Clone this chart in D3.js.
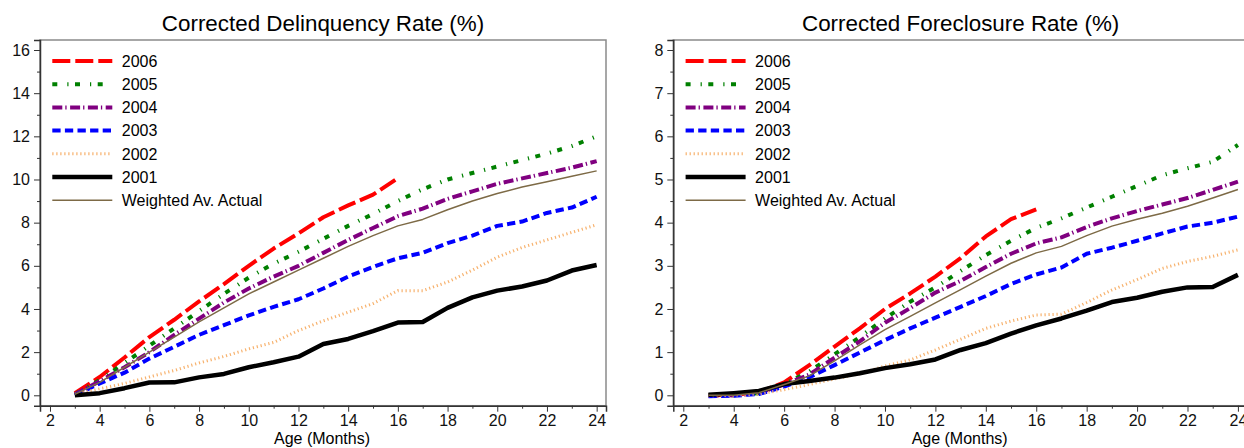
<!DOCTYPE html>
<html>
<head>
<meta charset="utf-8">
<script src="https://cdn.jsdelivr.net/npm/d3@7"></script>
<style>
	body { margin: 0; background: #fff; }
	svg { display: block; font-family: 'Liberation Sans', Arial, sans-serif; }
</style>
</head>
<body>
<svg width="1244" height="448"></svg>
<script>
'use strict'

// Age of loan in months
const months = [3, 4, 5, 6, 7, 8, 9, 10, 11, 12, 13, 14, 15, 16, 17, 18, 19, 20, 21, 22, 23, 24]
const seriesNames = ['2006', '2005', '2004', '2003', '2002', '2001', 'Weighted Av. Actual']

// Corrected delinquency rate (%)
const delq2006 = [0.1, 0.85, 1.75, 2.7, 3.5, 4.35, 5.15, 6.0, 6.8, 7.5, 8.25, 8.8, 9.3, 10.06]
const delq2005 = [0.05, 0.7, 1.5, 2.3, 3.1, 3.9, 4.7, 5.45, 6.1, 6.65, 7.25, 7.85, 8.4, 9.0, 9.55, 10.0, 10.3, 10.6, 10.9, 11.2, 11.55, 12.0]
const delq2004 = [0.05, 0.65, 1.3, 2.0, 2.8, 3.55, 4.3, 4.95, 5.5, 6.0, 6.6, 7.2, 7.75, 8.3, 8.65, 9.1, 9.45, 9.8, 10.05, 10.3, 10.55, 10.85]
const delq2003 = [0, 0.55, 1.05, 1.7, 2.25, 2.8, 3.25, 3.7, 4.1, 4.45, 4.95, 5.5, 5.95, 6.35, 6.6, 7.05, 7.4, 7.85, 8.05, 8.45, 8.7, 9.2]
const delq2002 = [0.05, 0.3, 0.55, 0.85, 1.15, 1.5, 1.8, 2.15, 2.45, 3.0, 3.45, 3.85, 4.25, 4.85, 4.85, 5.25, 5.8, 6.4, 6.85, 7.2, 7.55, 7.9]
const delq2001 = [0, 0.1, 0.33, 0.59, 0.6, 0.83, 0.99, 1.3, 1.53, 1.79, 2.38, 2.61, 2.97, 3.37, 3.4, 4.05, 4.54, 4.85, 5.04, 5.32, 5.78, 6.04]
const delqAvg = [0.05, 0.6, 1.3, 2.0, 2.7, 3.4, 4.05, 4.7, 5.25, 5.8, 6.35, 6.9, 7.4, 7.85, 8.15, 8.6, 9.0, 9.35, 9.65, 9.9, 10.15, 10.4]

// Corrected foreclosure rate (%)
const forc2006 = [0, 0.01, 0.07, 0.3, 0.7, 1.13, 1.55, 2.0, 2.36, 2.75, 3.18, 3.68, 4.08, 4.31]
const forc2005 = [0, 0, 0.05, 0.26, 0.55, 0.95, 1.35, 1.78, 2.17, 2.5, 2.88, 3.25, 3.58, 3.88, 4.1, 4.35, 4.6, 4.85, 5.1, 5.26, 5.41, 5.8]
const forc2004 = [-0.01, 0, 0.05, 0.25, 0.48, 0.87, 1.25, 1.68, 2.02, 2.38, 2.65, 2.97, 3.28, 3.52, 3.66, 3.9, 4.1, 4.27, 4.42, 4.57, 4.76, 4.95]
const forc2003 = [-0.02, -0.01, 0.03, 0.2, 0.42, 0.7, 0.99, 1.28, 1.55, 1.8, 2.05, 2.3, 2.58, 2.8, 2.96, 3.28, 3.42, 3.58, 3.75, 3.91, 4.0, 4.14]
const forc2002 = [-0.01, 0, 0.03, 0.13, 0.25, 0.38, 0.5, 0.68, 0.82, 1.05, 1.3, 1.55, 1.72, 1.86, 1.88, 2.15, 2.44, 2.68, 2.94, 3.1, 3.22, 3.37]
const forc2001 = [0.01, 0.05, 0.1, 0.26, 0.33, 0.41, 0.51, 0.63, 0.72, 0.83, 1.05, 1.21, 1.43, 1.62, 1.78, 1.96, 2.16, 2.26, 2.4, 2.5, 2.51, 2.79]
const forcAvg = [0, 0, 0.06, 0.25, 0.45, 0.8, 1.17, 1.52, 1.83, 2.14, 2.45, 2.76, 3.06, 3.3, 3.45, 3.7, 3.92, 4.08, 4.22, 4.38, 4.57, 4.77]

// Tick labels
const xTicks = [2, 4, 6, 8, 10, 12, 14, 16, 18, 20, 22, 24]
const xMinor = [3, 5, 7, 9, 11, 13, 15, 17, 19, 21, 23]
const delqTicks = [0, 2, 4, 6, 8, 10, 12, 14, 16]
const delqMinor = [1, 3, 5, 7, 9, 11, 13, 15]
const forcTicks = [0, 1, 2, 3, 4, 5, 6, 7, 8]
const forcMinor = [0.5, 1.5, 2.5, 3.5, 4.5, 5.5, 6.5, 7.5]

const STYLE = {
	'2006': { color: '#ff0000', width: 4, dash: '18 5' },
	'2005': { color: '#008000', width: 4, dash: '5 10 1.2 6.5' },
	'2004': { color: '#800080', width: 4, dash: '10 3 1.3 3.5' },
	'2003': { color: '#0000ff', width: 4, dash: '8.3 4.3' },
	'2002': { color: '#f7b26e', width: 3, dash: '1.2 2.8' },
	'2001': { color: '#000000', width: 4.5, dash: null },
	'Weighted Av. Actual': { color: '#7d6a46', width: 1.5, dash: null },
}

const panels = [
	{
		id: 'delq',
		title: 'Corrected Delinquency Rate (%)',
		xRange: [40, 606], xDomain: [1.598, 24.376],
		yDomain: [-0.482, 16.464],
		yTicks: delqTicks, yMinor: delqMinor,
		series: [delq2006, delq2005, delq2004, delq2003, delq2002, delq2001, delqAvg],
	},
	{
		id: 'forc',
		title: 'Corrected Foreclosure Rate (%)',
		xRange: [673.3, 1248], xDomain: [1.603, 24.4],
		yDomain: [-0.241, 8.232],
		yTicks: forcTicks, yMinor: forcMinor,
		series: [forc2006, forc2005, forc2004, forc2003, forc2002, forc2001, forcAvg],
	},
]

const svg = d3.select('svg')
const TOP = 40, BOTTOM = 405.7

panels.forEach((p) => {
	const x = d3.scaleLinear().domain(p.xDomain).range(p.xRange)
	const y = d3.scaleLinear().domain(p.yDomain).range([BOTTOM, TOP])
	const g = svg.append('g').attr('class', p.id)
	const cx = (p.xRange[0] + p.xRange[1]) / 2

	// Frame (top / right in grey)
	g.append('rect')
		.attr('x', p.xRange[0]).attr('y', TOP)
		.attr('width', p.xRange[1] - p.xRange[0]).attr('height', BOTTOM - TOP)
		.attr('fill', 'none').attr('stroke', '#8a8a8a').attr('stroke-width', 1.5)

	g.append('clipPath').attr('id', 'clip-' + p.id)
		.append('rect')
		.attr('x', p.xRange[0]).attr('y', TOP)
		.attr('width', p.xRange[1] - p.xRange[0]).attr('height', BOTTOM - TOP)

	// Title
	g.append('text')
		.attr('x', cx).attr('y', 31)
		.attr('text-anchor', 'middle')
		.attr('font-size', 22.4)
		.text(p.title)

	// Axes
	const xAxis = g.append('g').attr('transform', `translate(0,${BOTTOM})`)
		.call(d3.axisBottom(x).tickValues(xTicks).tickSize(6).tickPadding(3).tickFormat(d3.format('d')))
	g.append('g').attr('transform', `translate(0,${BOTTOM})`)
		.call(d3.axisBottom(x).tickValues(xMinor).tickSize(3).tickFormat(''))
		.call((a) => a.select('.domain').remove())
	const yAxis = g.append('g').attr('transform', `translate(${p.xRange[0]},0)`)
		.call(d3.axisLeft(y).tickValues(p.yTicks).tickSize(6).tickPadding(4).tickFormat(d3.format('d')))
	g.append('g').attr('transform', `translate(${p.xRange[0]},0)`)
		.call(d3.axisLeft(y).tickValues(p.yMinor).tickSize(3).tickFormat(''))
		.call((a) => a.select('.domain').remove())

	g.selectAll('.domain').attr('stroke', '#333').attr('stroke-width', 1.5)
	g.selectAll('.tick line').attr('stroke', '#333')
	g.selectAll('.tick text').attr('font-size', 16).attr('fill', '#111')
		.style('font-family', "'Liberation Sans', Arial, sans-serif")

	// Axis label
	g.append('text')
		.attr('x', cx - 1).attr('y', 444)
		.attr('text-anchor', 'middle')
		.attr('font-size', 16)
		.text('Age (Months)')

	// Lines
	const line = d3.line()
		.x((d) => x(d.m))
		.y((d) => y(d.v))
	const plot = g.append('g').attr('clip-path', `url(#clip-${p.id})`)
	p.series.forEach((values, i) => {
		const st = STYLE[seriesNames[i]]
		const pts = values.map((v, j) => ({ m: months[j], v: v }))
		plot.append('path')
			.datum(pts)
			.attr('d', line)
			.attr('fill', 'none')
			.attr('stroke', st.color)
			.attr('stroke-width', st.width)
			.attr('stroke-dasharray', st.dash)
			.attr('stroke-linejoin', 'round')
	})

	// Legend
	const lx = p.xRange[0] + 12.3
	const legend = g.append('g').attr('class', 'legend')
	seriesNames.forEach((name, i) => {
		const st = STYLE[name]
		const ly = 61 + i * 23.2
		legend.append('line')
			.attr('x1', lx).attr('x2', lx + 60)
			.attr('y1', ly).attr('y2', ly)
			.attr('stroke', st.color)
			.attr('stroke-width', st.width)
			.attr('stroke-dasharray', st.dash)
		legend.append('text')
			.attr('x', lx + 69.5).attr('y', ly)
			.attr('dy', '0.36em')
			.attr('font-size', 16)
			.text(name)
	})
})
</script>
</body>
</html>
